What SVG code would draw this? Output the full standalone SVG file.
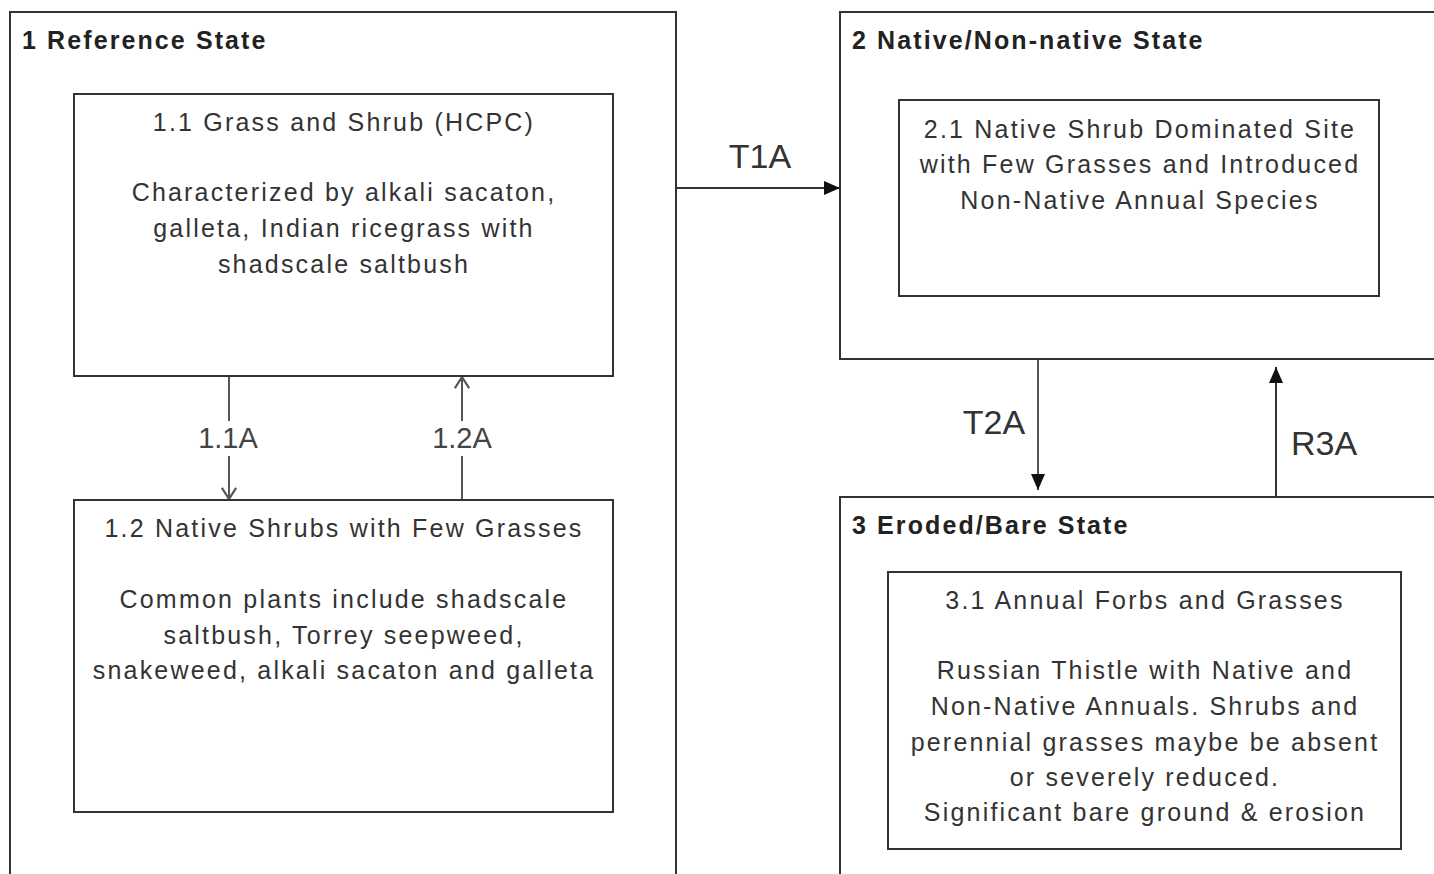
<svg xmlns="http://www.w3.org/2000/svg" width="1434" height="874" viewBox="0 0 1434 874">
<style>
.st{fill:#fff;stroke:#333;stroke-width:2}
.bx{fill:#fff;stroke:#333;stroke-width:2}
.h{font-family:"Liberation Sans",Arial,sans-serif;font-weight:bold;font-size:25px;letter-spacing:2.1px;fill:#222}
.t{font-family:"Liberation Sans",Arial,sans-serif;font-size:25px;letter-spacing:2.2px;fill:#333;text-anchor:middle}
.lb{font-family:"Liberation Sans",Arial,sans-serif;font-size:34px;fill:#333;text-anchor:middle}
.lbs{font-family:"Liberation Sans",Arial,sans-serif;font-size:29px;fill:#444;text-anchor:middle}
.c{stroke:#333;stroke-width:2;fill:none}
.cg{stroke:#555;stroke-width:2;fill:none}
</style>
<defs>
<marker id="fa" markerWidth="16" markerHeight="14" refX="10" refY="5" orient="auto" markerUnits="userSpaceOnUse" viewBox="0 0 10 10" preserveAspectRatio="none">
<path d="M0,0 L10,5 L0,10 Z" fill="#111"/>
</marker>
<marker id="oa" markerWidth="14" markerHeight="16" refX="10" refY="5" orient="auto" markerUnits="userSpaceOnUse" viewBox="0 0 10 10" preserveAspectRatio="none">
<path d="M2,0.5 L10,5 L2,9.5" fill="none" stroke="#555" stroke-width="1.4"/>
</marker>
</defs>
<rect width="1434" height="874" fill="#fff"/>
<g id="state1">
<rect class="st" x="10" y="12" width="666" height="880"/>
<text class="h" x="22" y="49">1 Reference State</text>
</g>
<g id="state2">
<rect class="st" x="840" y="12" width="620" height="347"/>
<text class="h" x="852" y="49">2 Native/Non-native State</text>
</g>
<g id="state3">
<rect class="st" x="840" y="497" width="620" height="400"/>
<text class="h" x="852" y="534">3 Eroded/Bare State</text>
</g>
<g id="n11">
<rect class="bx" x="74" y="94" width="539" height="282"/>
<text class="t" x="344" y="131">1.1 Grass and Shrub (HCPC)</text>
<text class="t" x="344" y="201">Characterized by alkali sacaton,</text>
<text class="t" x="344" y="237">galleta, Indian ricegrass with</text>
<text class="t" x="344" y="273">shadscale saltbush</text>
</g>
<g id="n12">
<rect class="bx" x="74" y="500" width="539" height="312"/>
<text class="t" x="344" y="537">1.2 Native Shrubs with Few Grasses</text>
<text class="t" x="344" y="608">Common plants include shadscale</text>
<text class="t" x="344" y="644">saltbush, Torrey seepweed,</text>
<text class="t" x="344" y="679">snakeweed, alkali sacaton and galleta</text>
</g>
<g id="n21">
<rect class="bx" x="899" y="100" width="480" height="196"/>
<text class="t" x="1140" y="138">2.1 Native Shrub Dominated Site</text>
<text class="t" x="1140" y="173">with Few Grasses and Introduced</text>
<text class="t" x="1140" y="209">Non-Native Annual Species</text>
</g>
<g id="n31">
<rect class="bx" x="888" y="572" width="513" height="277"/>
<text class="t" x="1145" y="609">3.1 Annual Forbs and Grasses</text>
<text class="t" x="1145" y="679">Russian Thistle with Native and</text>
<text class="t" x="1145" y="715">Non-Native Annuals. Shrubs and</text>
<text class="t" x="1145" y="751">perennial grasses maybe be absent</text>
<text class="t" x="1145" y="786">or severely reduced.</text>
<text class="t" x="1145" y="821">Significant bare ground &amp; erosion</text>
</g>
<g id="connectors">
<line class="c" x1="676" y1="188" x2="840" y2="188" marker-end="url(#fa)"/>
<text class="lb" x="760" y="168">T1A</text>
<line class="cg" x1="229" y1="377" x2="229" y2="421"/>
<line class="cg" x1="229" y1="456" x2="229" y2="499" marker-end="url(#oa)"/>
<text class="lbs" x="228" y="448">1.1A</text>
<line class="cg" x1="462" y1="499" x2="462" y2="456"/>
<line class="cg" x1="462" y1="421" x2="462" y2="377" marker-end="url(#oa)"/>
<text class="lbs" x="462" y="448">1.2A</text>
<line class="cg" x1="1038" y1="360" x2="1038" y2="490" marker-end="url(#fa)"/>
<text class="lb" x="994" y="434">T2A</text>
<line class="c" x1="1276" y1="496" x2="1276" y2="367" marker-end="url(#fa)"/>
<text class="lb" x="1324" y="455">R3A</text>
</g>
</svg>
